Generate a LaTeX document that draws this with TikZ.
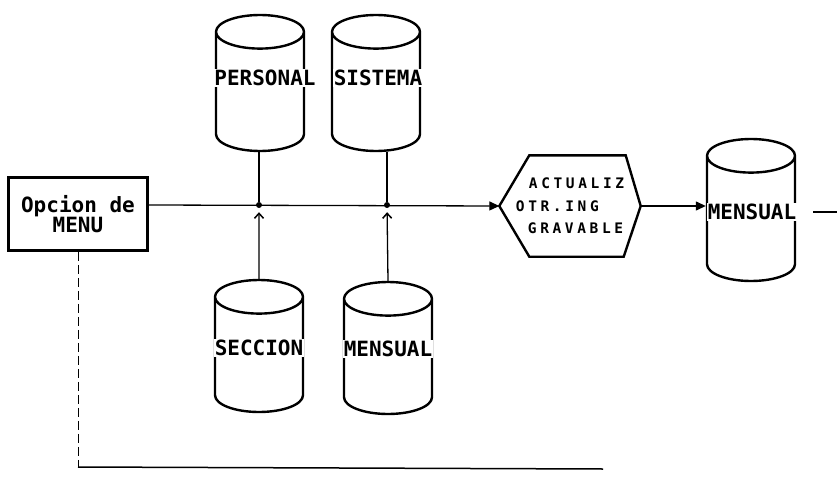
\documentclass[tikz,border=0pt]{standalone}
\usepackage{fontspec}
\usetikzlibrary{shapes.geometric,arrows.meta}
\newfontfamily\pixfont{DejaVu Sans Mono}
\newfontfamily\hexfont{DejaVu Sans Mono}[LetterSpace=25]

\begin{document}
\begin{tikzpicture}[
  x=1pt,y=-1pt,
  disk/.style={cylinder,shape border rotate=90,aspect=0.4,draw,line width=2.4pt,
    text width=84pt,minimum width=88pt,minimum height=136pt,inner sep=0pt},
  disklabel/.style={fill=white,inner sep=1pt,font=\pixfont\bfseries\fontsize{21}{21}\selectfont},
  flow/.style={line width=1.3pt,-{Triangle[length=10pt,width=9pt]}},
  feed/.style={line width=1.3pt,-{Straight Barb[length=5pt,width=9pt,line width=1.5pt]},shorten >=4pt},
  junct/.style={circle,fill,inner sep=0pt,minimum size=6pt}
]
  \useasboundingbox (0,0) rectangle (837,476);

  % menu box
  \node[draw,line width=2.6pt,minimum width=139pt,minimum height=73pt,align=center,
    font=\pixfont\bfseries\fontsize{21}{18}\selectfont] (menu) at (78,214) {Opcion de\\MENU};

  % data stores
  \node[disk] (per) at (260,92) {};
  \node[disk] (sis) at (376,92) {};
  \node[disk,minimum height=132pt] (sec) at (259,355) {};
  \node[disk,minimum height=132pt] (men) at (388,357) {};
  \node[disk,minimum height=142pt] (mens) at (751,219) {};
  \node[disklabel] (perl) at (265,78) {PERSONAL};
  \node[disklabel] (sisl) at (378,78) {SISTEMA};
  \node[disklabel] (secl) at (259,348) {SECCION};
  \node[disklabel] (menl) at (388,349) {MENSUAL};
  \node[disklabel] (mensl) at (752,212) {MENSUAL};

  % process
  \node[minimum width=141pt,minimum height=101pt,align=left,
    font=\hexfont\bfseries\fontsize{14.5}{22.5}\selectfont] (act) at (570,206)
    {\hspace*{13pt}ACTUALIZ\\OTR.ING\\\hspace*{12pt}GRAVABLE};
  \draw[line width=2.4pt] (act.west) -- ([xshift=30pt]act.north west)
    -- ([xshift=-15pt]act.north east) -- (act.east)
    -- ([xshift=-17pt]act.south east) -- ([xshift=30pt]act.south west) -- cycle;

  % junctions
  \node[junct] (j1) at (259,205) {};
  \node[junct] (j2) at (387,205) {};
  \coordinate (c1) at (78,467);
  \coordinate (c2) at (603,469);
  \coordinate (out) at (837,212);

  \draw[flow] (menu.east |- j1) -- (act.west);
  \draw[line width=1.3pt] (j1 |- per.south) -- (j1);
  \draw[line width=1.3pt] (j2 |- sis.south) -- (j2);
  \draw[feed] (sec.north) -- (j1);
  \draw[feed] (men.north) -- (j2);
  \draw[flow] (act.east) -- (act.east -| mens.west);
  \draw[line width=1.3pt,shorten <=17pt] (mens.east |- out) -- (out);
  \draw[line width=1pt,dash pattern=on 9pt off 4pt] (menu.south) -- (c1);
  \draw[line width=1.5pt] (c1) -- (c2);
\end{tikzpicture}
\end{document}
